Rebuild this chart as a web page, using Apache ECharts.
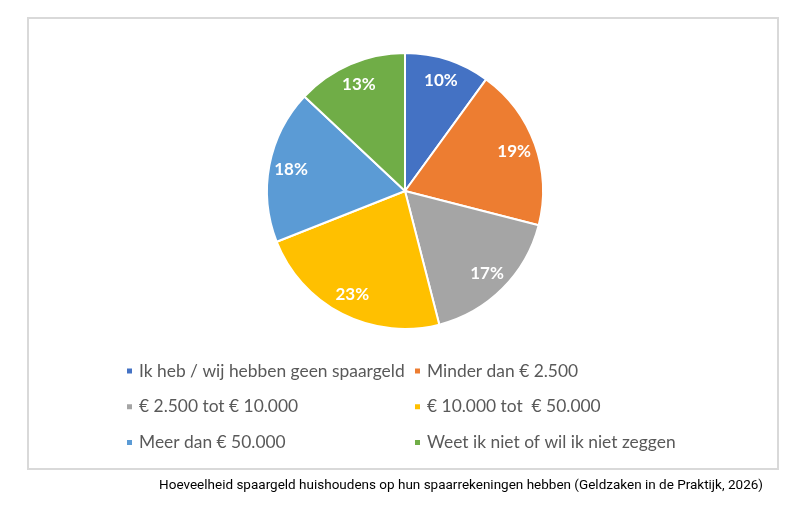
<!DOCTYPE html>
<html><head><meta charset="utf-8">
<script src="https://cdn.jsdelivr.net/npm/echarts@6/dist/echarts.min.js"></script>
<style>html,body{margin:0;padding:0;background:#fff}#c{width:792px;height:517px}</style>
</head><body><div id="c"></div>
<script>
const categories = [
  'Ik heb / wij hebben geen spaargeld',
  'Minder dan € 2.500',
  '€ 2.500 tot € 10.000',
  '€ 10.000 tot  € 50.000',
  'Meer dan € 50.000',
  'Weet ik niet of wil ik niet zeggen'
];
const values = [10, 19, 17, 23, 18, 13];
const palette = ['#4472C4', '#ED7D31', '#A5A5A5', '#FFC000', '#5B9BD5', '#70AD47'];
const caption = 'Hoeveelheid spaargeld huishoudens op hun spaarrekeningen hebben (Geldzaken in de Praktijk, 2026)';

const chart = echarts.init(document.getElementById('c'), null, {renderer: 'canvas'});
const data = categories.map((n, i) => ({name: n, value: values[i]}));
const legendText = {fontFamily: 'Lato', fontSize: 17.4, color: '#595959', lineHeight: 20, padding: [0, 0, 0, 1]};
chart.setOption({
  animation: false,
  color: palette,
  title: {
    text: caption, right: 29, top: 479, padding: 0,
    textStyle: {fontFamily: 'Roboto', fontSize: 13.5, fontWeight: 'normal', color: '#000'}
  },
  graphic: [{
    type: 'rect', shape: {x: 28, y: 18, width: 750, height: 451},
    style: {fill: 'none', stroke: '#D9D9D9', lineWidth: 2}, silent: true
  }],
  legend: [
    {orient: 'vertical', left: 125, top: 361, padding: 0, itemWidth: 7, itemHeight: 7, itemGap: 15.7,
     icon: 'rect', data: [categories[0], categories[2], categories[4]], textStyle: legendText, selectedMode: false},
    {orient: 'vertical', left: 413, top: 361, padding: 0, itemWidth: 7, itemHeight: 7, itemGap: 15.7,
     icon: 'rect', data: [categories[1], categories[3], categories[5]], textStyle: legendText, selectedMode: false}
  ],
  series: [
    {
      type: 'pie', center: [405, 191], radius: 138, startAngle: 90, clockwise: true,
      data: data, label: {show: false}, labelLine: {show: false},
      itemStyle: {borderColor: '#fff', borderWidth: 2}, silent: true
    },
    {
      type: 'pie', center: [405, 191], radius: [88, 138], startAngle: 90, clockwise: true,
      data: data, silent: true, labelLine: {show: false},
      itemStyle: {color: 'rgba(0,0,0,0)', borderWidth: 0},
      label: {show: true, position: 'inside', formatter: '{c}%', color: '#fff',
              fontFamily: 'Lato', fontWeight: 'bold', fontSize: 17}
    }
  ]
});
</script></body></html>
